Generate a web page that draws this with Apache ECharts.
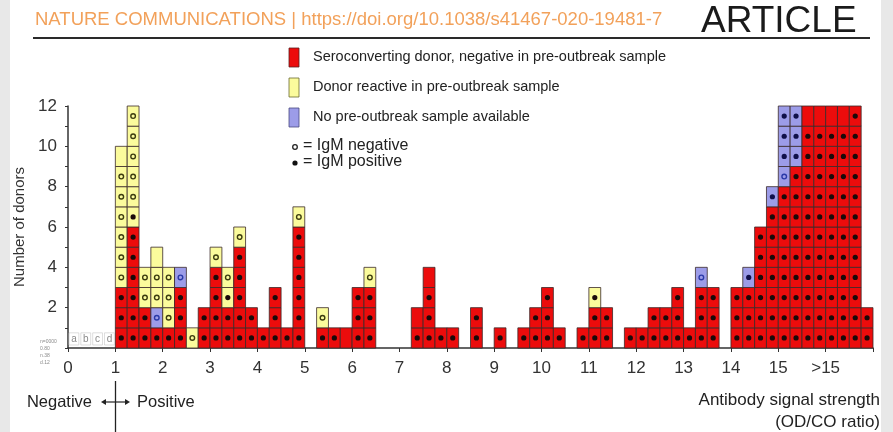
<!DOCTYPE html>
<html>
<head>
<meta charset="utf-8">
<script src="https://cdn.jsdelivr.net/npm/echarts@6/dist/echarts.min.js"></script>
<style>
html, body { margin: 0; padding: 0; background: #fff; }
#chart { width: 893px; height: 432px; }
</style>
</head>
<body>
<div id="chart"></div>
<script>
// one column per 0.25-wide bin of OD/CO ratio, starting at 1.0
// cells bottom to top: R red + IgM pos, r red no mark, Y yellow + IgM neg,
// y yellow no mark, K yellow + IgM pos, B blue + IgM pos, b blue + IgM neg
var binWidth = 0.25;
var firstBin = 1;
var columns = [
    'RRRYYYYYYy', 'RRRRRRKYYYYY', 'RRYY', 'RbYYy', 'RYYY', 'RRRb', 'Y', 'RR',
    'RRRRY', 'RRKY', 'RRRRRY', 'RR', 'R', 'RRR', 'R', 'RRRRRRY',
    '', 'RY', 'R', 'r', 'RRR', 'RRRY', '', '',
    '', 'Rr', 'RRRr', 'R', 'R', '', 'RR', '',
    'R', '', 'R', 'RR', 'RRR', 'R', '', 'R',
    'RRK', 'RR', '', 'R', 'R', 'RR', 'RR', 'RRR',
    'R', 'RRRb', 'RRR', '', 'RRR', 'RRRB', 'RRRRRR', 'RRRRRRRB',
    'RRRRRRRRbBBB', 'RRRRRRRRRBBB', 'RRRRRRRRRRRr', 'RRRRRRRRRRRr', 'RRRRRRRRRRRr', 'RRRRRRRRRRRr', 'RRRRRRRRRRRR', 'RR'
];
var xTickLabels = ['0','1','2','3','4','5','6','7','8','9','10','11','12','13','14','15','>15',''];
var yTickLabels = [2, 4, 6, 8, 10, 12];
var refLetters = ['a', 'b', 'c', 'd'];

var cellColors = { R: '#ec0c0c', r: '#ec0c0c', Y: '#fbfb9c', y: '#fbfb9c', K: '#fbfb9c', B: '#9c9ce8', b: '#9c9ce8' };
var cellMarks = { R: 'pos', K: 'pos', B: 'pos', Y: 'neg', b: 'neg' };

var cells = [];
columns.forEach(function (col, k) {
    for (var i = 0; i < col.length; i++) {
        cells.push([firstBin + k * binWidth, i, col.charAt(i)]);
    }
});

var myChart = echarts.init(document.getElementById('chart'));

function renderCell(params, api) {
    var code = cells[params.dataIndex][2];
    var x0 = api.value(0), row = api.value(1);
    var a = api.coord([x0, row + 1]);
    var b = api.coord([x0 + binWidth, row]);
    var w = b[0] - a[0], h = b[1] - a[1];
    var cx = a[0] + w / 2, cy = a[1] + h / 2;
    var kids = [{
        type: 'rect',
        shape: { x: a[0], y: a[1], width: w, height: h },
        style: { fill: cellColors[code], stroke: '#3a2a2a', lineWidth: 0.8 }
    }];
    if (cellMarks[code] === 'pos') {
        kids.push({ type: 'circle', shape: { cx: cx, cy: cy, r: 2.6 }, style: { fill: code === 'B' ? '#10104a' : '#1a0a0a' } });
    } else if (cellMarks[code] === 'neg') {
        kids.push({ type: 'circle', shape: { cx: cx, cy: cy, r: 2.3 },
            style: { fill: 'none', stroke: code === 'b' ? '#2a3aa8' : '#3c3c10', lineWidth: 1.4 } });
    }
    return { type: 'group', children: kids };
}

function renderLetter(params, api) {
    var x0 = api.value(0);
    var a = api.coord([x0, 1]);
    var b = api.coord([x0 + binWidth, 0]);
    return {
        type: 'group',
        children: [
            { type: 'rect', shape: { x: a[0] + 1, y: a[1] + 5, width: b[0] - a[0] - 2, height: b[1] - a[1] - 8 },
              style: { fill: 'none', stroke: '#c8c8c8', lineWidth: 0.6 } },
            { type: 'text', style: { text: refLetters[params.dataIndex], x: (a[0] + b[0]) / 2, y: (a[1] + b[1]) / 2 + 1,
              align: 'center', verticalAlign: 'middle', fill: '#8a8a8a', font: '10px "Liberation Sans", Arial, sans-serif' } }
        ]
    };
}

var textFont = '"Liberation Sans", Arial, sans-serif';

var option = {
    backgroundColor: '#fff',
    animation: false,
    grid: { left: 68, right: 20, top: 106, bottom: 84 },
    xAxis: {
        type: 'value',
        min: 0,
        max: 17,
        interval: 1,
        axisLine: { lineStyle: { color: '#333', width: 1.5 } },
        axisTick: { show: true, length: 4, lineStyle: { color: '#333' } },
        axisLabel: {
            margin: 12,
            color: '#333',
            fontSize: 17,
            fontFamily: textFont,
            formatter: function (v) { return xTickLabels[v] || ''; }
        },
        splitLine: { show: false }
    },
    yAxis: {
        type: 'value',
        min: 0,
        max: 12,
        interval: 1,
        name: 'Number of donors',
        nameLocation: 'middle',
        nameGap: 39,
        nameTextStyle: { color: '#333', fontSize: 15, fontFamily: textFont },
        axisLine: { show: true, lineStyle: { color: '#333', width: 1.5 } },
        axisTick: { show: true, length: 3, lineStyle: { color: '#333' } },
        axisLabel: {
            margin: 11,
            color: '#333',
            fontSize: 17,
            fontFamily: textFont,
            formatter: function (v) { return yTickLabels.indexOf(v) >= 0 ? String(v) : ''; }
        },
        splitLine: { show: false }
    },
    series: [
        {
            name: 'cells',
            type: 'custom',
            renderItem: renderCell,
            encode: { x: 0, y: 1 },
            data: cells.map(function (c) { return [c[0], c[1]]; })
        },
        {
            name: 'letters',
            type: 'custom',
            renderItem: renderLetter,
            encode: { x: 0, y: 1 },
            data: refLetters.map(function (l, i) { return [i * binWidth, 0]; })
        }
    ],
    graphic: [
        { type: 'rect', shape: { x: 0, y: 0, width: 10, height: 432 }, style: { fill: '#e8e8e8' } },
        { type: 'rect', shape: { x: 881, y: 0, width: 12, height: 432 }, style: { fill: '#e8e8e8' } },
        { type: 'text', x: 35, y: 10, style: { text: 'NATURE COMMUNICATIONS | https://doi.org/10.1038/s41467-020-19481-7',
            fill: '#f2a15a', font: '18.5px ' + textFont } },
        { type: 'text', x: 701, y: 3, style: { text: 'ARTICLE', fill: '#1a1a1a', font: '37px ' + textFont } },
        { type: 'line', shape: { x1: 33, y1: 38, x2: 870, y2: 38 }, style: { stroke: '#2a2a2a', lineWidth: 2 } },

        { type: 'rect', shape: { x: 289, y: 48, width: 10, height: 19 }, style: { fill: '#ec0c0c', stroke: '#5a2020', lineWidth: 0.8 } },
        { type: 'rect', shape: { x: 289, y: 78, width: 10, height: 19 }, style: { fill: '#fbfb9c', stroke: '#6a6a30', lineWidth: 0.8 } },
        { type: 'rect', shape: { x: 289, y: 108, width: 10, height: 19 }, style: { fill: '#9c9ce8', stroke: '#4a4a80', lineWidth: 0.8 } },
        { type: 'text', x: 313, y: 57, style: { text: 'Seroconverting donor, negative in pre-outbreak sample', fill: '#222',
            font: '14.5px ' + textFont, verticalAlign: 'middle' } },
        { type: 'text', x: 313, y: 87, style: { text: 'Donor reactive in pre-outbreak sample', fill: '#222',
            font: '14.5px ' + textFont, verticalAlign: 'middle' } },
        { type: 'text', x: 313, y: 117, style: { text: 'No pre-outbreak sample available', fill: '#222',
            font: '14.5px ' + textFont, verticalAlign: 'middle' } },
        { type: 'circle', shape: { cx: 295, cy: 147, r: 2.3 }, style: { fill: 'none', stroke: '#222', lineWidth: 1.3 } },
        { type: 'circle', shape: { cx: 295, cy: 163, r: 2.6 }, style: { fill: '#111' } },
        { type: 'text', x: 303, y: 146, style: { text: '= IgM negative', fill: '#222', font: '16px ' + textFont, verticalAlign: 'middle' } },
        { type: 'text', x: 303, y: 162, style: { text: '= IgM positive', fill: '#222', font: '16px ' + textFont, verticalAlign: 'middle' } },

        { type: 'text', x: 40, y: 338, style: { text: 'n=0000\n0.80\nn.38\nd.12', fill: '#8a8a8a', font: '5px ' + textFont, lineHeight: 7 } },

        { type: 'line', shape: { x1: 115.5, y1: 381, x2: 115.5, y2: 432 }, style: { stroke: '#222', lineWidth: 1.3 } },
        { type: 'line', shape: { x1: 103, y1: 402, x2: 128, y2: 402 }, style: { stroke: '#222', lineWidth: 1.2 } },
        { type: 'polygon', shape: { points: [[101, 402], [106, 399], [106, 405]] }, style: { fill: '#222' } },
        { type: 'polygon', shape: { points: [[130, 402], [125, 399], [125, 405]] }, style: { fill: '#222' } },
        { type: 'text', x: 92, y: 402, style: { text: 'Negative', fill: '#222', font: '16.5px ' + textFont, align: 'right', verticalAlign: 'middle' } },
        { type: 'text', x: 137, y: 402, style: { text: 'Positive', fill: '#222', font: '16.5px ' + textFont, verticalAlign: 'middle' } },
        { type: 'text', x: 880, y: 400, style: { text: 'Antibody signal strength', fill: '#222', font: '17px ' + textFont, align: 'right', verticalAlign: 'middle' } },
        { type: 'text', x: 880, y: 422, style: { text: '(OD/CO ratio)', fill: '#222', font: '17px ' + textFont, align: 'right', verticalAlign: 'middle' } }
    ]
};

myChart.setOption(option);
</script>
</body>
</html>
